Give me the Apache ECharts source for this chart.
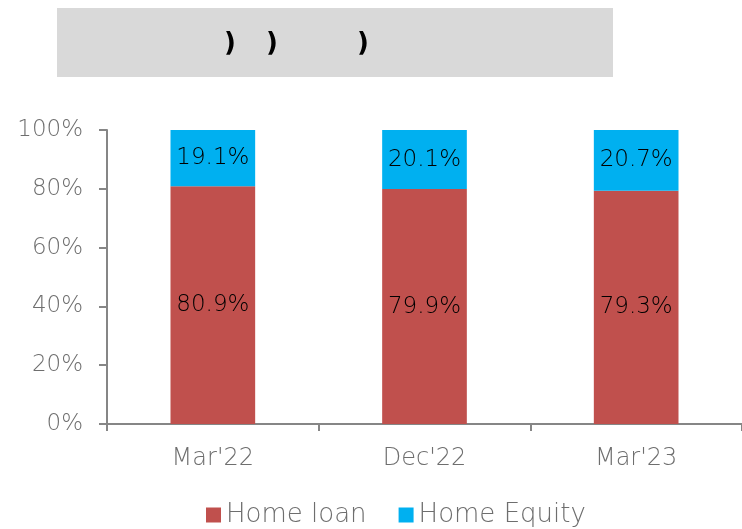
<!DOCTYPE html>
<html>
<head>
<meta charset="utf-8">
<script src="https://cdn.jsdelivr.net/npm/echarts@6/dist/echarts.min.js"></script>
<style>
  html, body { margin: 0; padding: 0; background: #fff; }
  #chart { width: 742px; height: 529px; }
</style>
</head>
<body>
<div id="chart"></div>
<script>
const categories = ["Mar'22", "Dec'22", "Mar'23"]
const homeLoan = [80.9, 79.9, 79.3]
const homeEquity = [19.1, 20.1, 20.7]
const yTicks = [0, 20, 40, 60, 80, 100]

const chart = echarts.init(document.getElementById('chart'))

const font = 'DejaVu Sans'
const grey = '#6e6e6e'
const fmt = p => p.value.toFixed(1) + '%'

const option = {
  animation: false,
  textStyle: { fontFamily: font },
  graphic: [
    { type: 'rect', shape: { x: 57, y: 8, width: 556, height: 69 }, style: { fill: '#d9d9d9' } },
    { type: 'text', x: 224, y: 31, style: { text: ')', font: 'bold 26px DejaVu Sans', fill: '#000' } },
    { type: 'text', x: 266, y: 31, style: { text: ')', font: 'bold 26px DejaVu Sans', fill: '#000' } },
    { type: 'text', x: 357, y: 31, style: { text: ')', font: 'bold 26px DejaVu Sans', fill: '#000' } }
  ],
  legend: {
    bottom: -4,
    left: 201,
    itemWidth: 15,
    itemHeight: 15,
    itemGap: 32,
    icon: 'rect',
    textStyle: { color: grey, fontSize: 26, fontWeight: 200, fontFamily: font },
    data: ['Home loan', 'Home Equity']
  },
  grid: { left: 107, right: -8, top: 130, bottom: 105 },
  xAxis: {
    type: 'category',
    data: categories,
    axisLine: { lineStyle: { color: '#868686', width: 2 } },
    axisTick: { show: true, length: 7, lineStyle: { color: '#868686', width: 2 } },
    axisLabel: { color: grey, fontSize: 24, fontWeight: 200, margin: 23, fontFamily: font }
  },
  yAxis: {
    type: 'value',
    min: yTicks[0],
    max: yTicks[yTicks.length - 1],
    interval: 20,
    axisLine: { show: true, lineStyle: { color: '#868686', width: 2 } },
    axisTick: { show: true, length: 8, lineStyle: { color: '#868686', width: 2 } },
    splitLine: { show: false },
    axisLabel: { color: grey, fontSize: 23, fontWeight: 200, margin: 24, fontFamily: font, formatter: '{value}%' }
  },
  series: [
    {
      name: 'Home loan',
      type: 'bar',
      stack: 'total',
      barWidth: '40%',
      data: homeLoan,
      itemStyle: { color: '#c0504d' },
      label: { show: true, position: 'inside', color: '#000', fontSize: 23, fontWeight: 200, fontFamily: font, formatter: fmt }
    },
    {
      name: 'Home Equity',
      type: 'bar',
      stack: 'total',
      barWidth: '40%',
      data: homeEquity,
      itemStyle: { color: '#00b0f0' },
      label: { show: true, position: 'inside', color: '#000', fontSize: 23, fontWeight: 200, fontFamily: font, formatter: fmt }
    }
  ]
}

chart.setOption(option)
</script>
</body>
</html>
